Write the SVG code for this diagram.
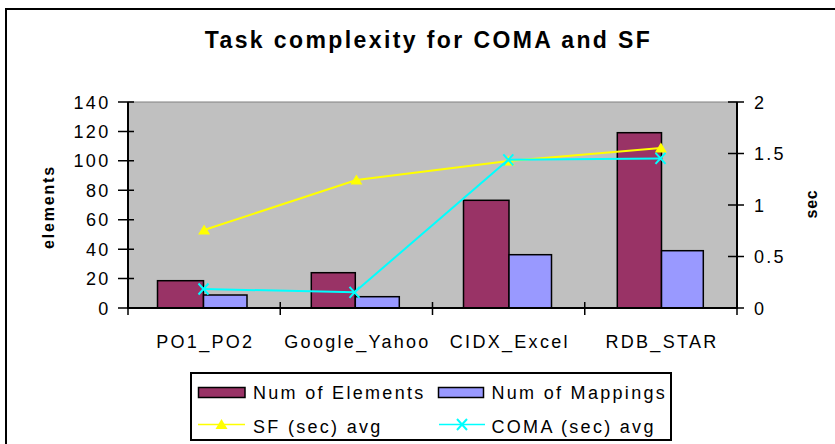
<svg xmlns="http://www.w3.org/2000/svg" width="835" height="444" viewBox="0 0 835 444">
<style>
text{font-family:"Liberation Sans",Arial,sans-serif;fill:#000}
.t{font-size:18px;letter-spacing:2.3px}
.b{font-weight:bold}
.el{fill:#993366;stroke:#000;stroke-width:1.5}
.mp{fill:#9999FF;stroke:#000;stroke-width:1.5}
.ax{stroke:#000;stroke-width:2;fill:none}
.sf{stroke:#FFFF00;stroke-width:2;fill:none}
.co{stroke:#00FFFF;stroke-width:2;fill:none}
</style>
<defs>
<path id="tri" d="M0,-5.5 L6,4.5 L-6,4.5 Z" fill="#FFFF00"/>
<path id="xm" d="M-5,-5.5 L5,5.5 M-5,5.5 L5,-5.5" stroke="#00FFFF" stroke-width="2" fill="none"/>
</defs>
<rect width="835" height="444" fill="#fff"/>
<rect x="6" y="9" width="840" height="450" fill="none" stroke="#000" stroke-width="2"/>
<text id="title" class="b" x="428.5" y="47.5" text-anchor="middle" font-size="23" letter-spacing="2.4">Task complexity for COMA and SF</text>

<g id="plot">
<rect x="128" y="102" width="609" height="206" fill="#C0C0C0" stroke="#808080" stroke-width="1"/>
</g>

<g id="bars">
<rect class="el" x="157.5" y="280.7" width="46" height="27.3"/>
<rect class="mp" x="203.5" y="295" width="43.5" height="13"/>
<rect class="el" x="311.3" y="272.7" width="44" height="35.3"/>
<rect class="mp" x="355.3" y="296.7" width="44" height="11.3"/>
<rect class="el" x="463.5" y="200.3" width="45.5" height="107.7"/>
<rect class="mp" x="509" y="254.7" width="42.5" height="53.3"/>
<rect class="el" x="617.3" y="132.7" width="44.2" height="175.3"/>
<rect class="mp" x="661.5" y="250.7" width="41.8" height="57.3"/>
</g>

<g id="axes">
<path class="ax" d="M128,102 V309 M737,102 V309 M127,308 H738"/>
<path stroke="#000" stroke-width="1.5" d="M118,308 H134 M118,278.57 H134 M118,249.14 H134 M118,219.71 H134 M118,190.29 H134 M118,160.86 H134 M118,131.43 H134 M118,102 H134
M728,308 H744 M728,256.5 H744 M728,205 H744 M728,153.5 H744 M728,102 H744
M280.25,302 V315 M432.5,302 V315 M584.75,302 V315 M128,302 V315 M737,302 V315"/>
<g class="t" text-anchor="end">
<text x="110.5" y="314.5">0</text>
<text x="110.5" y="285">20</text>
<text x="110.5" y="255.6">40</text>
<text x="110.5" y="226.2">60</text>
<text x="110.5" y="196.8">80</text>
<text x="110.5" y="167.4">100</text>
<text x="110.5" y="137.9">120</text>
<text x="110.5" y="108.5">140</text>
</g>
<g class="t">
<text x="754" y="314.5">0</text>
<text x="754" y="263">0.5</text>
<text x="754" y="211.5">1</text>
<text x="754" y="160">1.5</text>
<text x="754" y="108.5">2</text>
</g>
<g class="t" text-anchor="middle">
<text x="205.3" y="348">PO1_PO2</text>
<text x="357.5" y="348">Google_Yahoo</text>
<text x="509.8" y="348">CIDX_Excel</text>
<text x="662" y="348">RDB_STAR</text>
</g>
<text class="b" font-size="16" letter-spacing="1.8" text-anchor="middle" transform="translate(54,207) rotate(-90)">elements</text>
<text class="b" font-size="16" letter-spacing="0.8" text-anchor="middle" transform="translate(816.5,204) rotate(-90)">sec</text>
</g>

<g id="connectors">
<polyline class="sf" points="204.1,230 356.4,180 508.6,161 660.9,148"/>
<use href="#tri" x="204.1" y="230"/>
<use href="#tri" x="356.4" y="180"/>
<use href="#tri" x="508.6" y="161"/>
<use href="#tri" x="660.9" y="148"/>
<polyline class="co" points="203.5,289 354.5,292.3 508.3,159.8 660.5,158.4"/>
<use href="#xm" x="203.5" y="289"/>
<use href="#xm" x="354.5" y="292.3"/>
<use href="#xm" x="508.3" y="159.8"/>
<use href="#xm" x="660.5" y="158.4"/>
</g>

<g id="legend">
<rect x="191" y="373" width="480" height="67" fill="#fff" stroke="#000" stroke-width="2"/>
<rect class="el" x="198.5" y="387.5" width="46.5" height="10" stroke-width="2"/>
<text class="t" x="253" y="399">Num of Elements</text>
<rect class="mp" x="438.5" y="387.5" width="45" height="10" stroke-width="2"/>
<text class="t" x="491.5" y="399">Num of Mappings</text>
<path d="M198,424.5 H245" stroke="#FFFF00" stroke-width="1.5"/>
<use href="#tri" x="221.5" y="424.5"/>
<text class="t" x="253" y="432.5">SF (sec) avg</text>
<path d="M439,424.5 H485" stroke="#00FFFF" stroke-width="1.5"/>
<use href="#xm" x="462" y="424.5"/>
<text class="t" x="491.5" y="432.5">COMA (sec) avg</text>
</g>
</svg>
